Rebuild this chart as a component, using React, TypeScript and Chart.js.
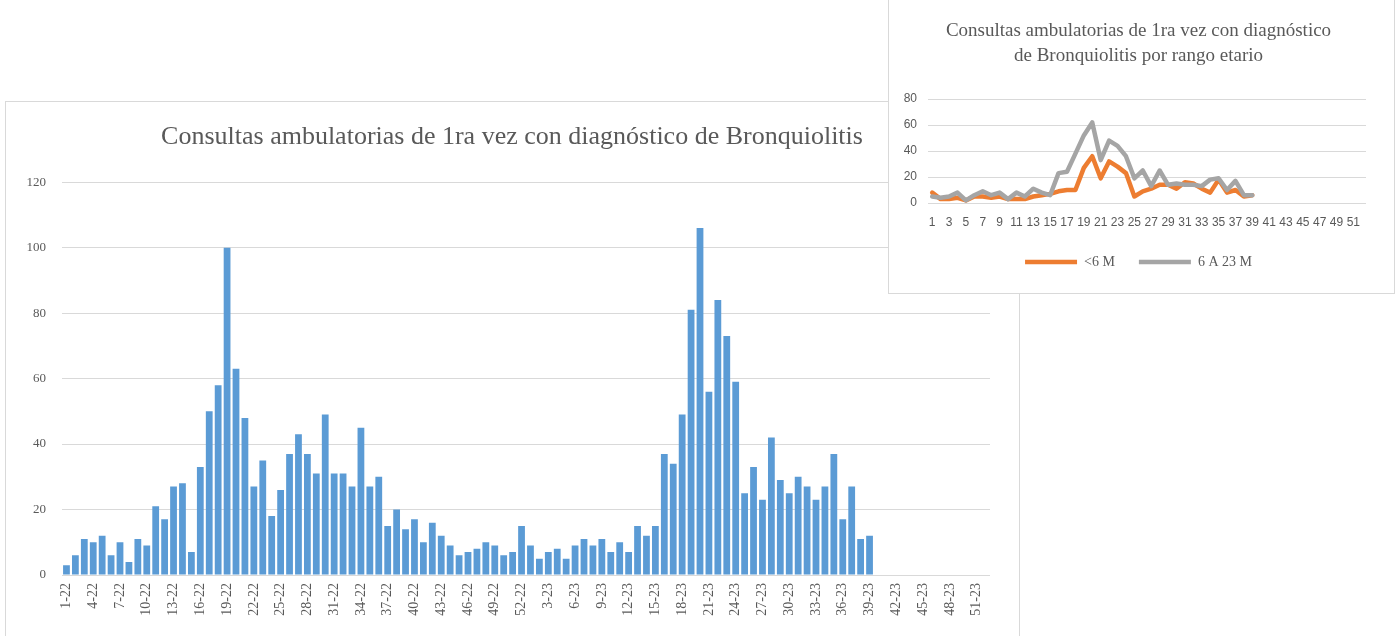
import React, { useEffect, useRef } from "react";
import { Chart, registerables } from "chart.js";

Chart.register(...registerables);

// ---------- DATA ----------
const weekNumbers = [
  1, 2, 3, 4, 5, 6, 7, 8, 9, 10, 11, 12, 13, 14, 15, 16, 17, 18, 19, 20, 21, 22, 23, 24, 25, 26,
  27, 28, 29, 30, 31, 32, 33, 34, 35, 36, 37, 38, 39, 40, 41, 42, 43, 44, 45, 46, 47, 48, 49, 50, 51, 52,
];
const yearSuffixes = ["22", "23"];

// Weekly consultations 2022 (weeks 1-52)
const counts2022 = [
  3, 6, 11, 10, 12, 6, 10, 4, 11, 9, 21, 17, 27, 28, 7, 33, 50, 58, 100, 63, 48, 27, 35, 18, 26, 37,
  43, 37, 31, 49, 31, 31, 27, 45, 27, 30, 15, 20, 14, 17, 10, 16, 12, 9, 6, 7, 8, 10, 9, 6, 7, 15,
];
// Weekly consultations 2023 (weeks 1-39 reported)
const counts2023 = [
  9, 5, 7, 8, 5, 9, 11, 9, 11, 7, 10, 7, 15, 12, 15, 37, 34, 49, 81, 106, 56, 84, 73, 59, 25, 33,
  23, 42, 29, 25, 30, 27, 23, 27, 37, 17, 27, 11, 12,
];

// Inset: by age range (weeks 1-39)
const under6Months = [
  8, 3, 3, 4, 2, 5, 5, 4, 5, 3, 3, 3, 5, 6, 7, 9, 10, 10, 27, 36, 19, 32, 28, 23, 5, 9,
  11, 14, 14, 11, 16, 15, 11, 8, 18, 8, 10, 5, 6,
];
const months6to23 = [
  5, 4, 5, 8, 2, 6, 9, 6, 8, 3, 8, 5, 11, 8, 6, 23, 24, 38, 52, 62, 33, 48, 44, 36, 19, 25,
  13, 25, 14, 15, 14, 14, 13, 18, 19, 10, 17, 6, 6,
];

const mainTitle = "Consultas ambulatorias de 1ra vez con diagnóstico de Bronquiolitis";
const insetTitle = [
  "Consultas ambulatorias de 1ra vez con diagnóstico",
  "de Bronquiolitis por rango etario",
];
const seriesNames = ["<6 M", "6 A 23 M"];

const TEXT = "#595959";
const GRID = "#D9D9D9";
const SERIF = "'Liberation Serif', 'DejaVu Serif', serif";
const SANS = "'Liberation Sans', 'DejaVu Sans', sans-serif";

function padTo(arr: (number | null)[], n: number) {
  return weekNumbers.slice(0, n).map((_, i) => (i < arr.length ? arr[i] : null));
}

// invisible right-hand spacer axis (keeps titles/legends centred like the original)
function spacerAxis(width: number) {
  return {
    type: "linear" as const,
    position: "right" as const,
    min: 0,
    max: 1,
    grid: { display: false, drawTicks: false },
    border: { display: false },
    ticks: { display: false },
    afterFit: (s: any) => {
      s.width = width;
    },
  };
}

function MainChart() {
  const ref = useRef<HTMLCanvasElement | null>(null);
  useEffect(() => {
    if (!ref.current) return;
    const labels = yearSuffixes.flatMap((y) => weekNumbers.map((w) => `${w}-${y}`));
    const values = [...padTo(counts2022, 52), ...padTo(counts2023, 52)];
    const chart = new Chart(ref.current, {
      type: "bar",
      data: {
        labels,
        datasets: [
          {
            data: values,
            backgroundColor: "#5B9BD5",
            borderWidth: 0,
            barPercentage: 0.76,
            categoryPercentage: 1,
            yAxisID: "y",
          },
        ],
      },
      options: {
        animation: false,
        responsive: false,
        maintainAspectRatio: false,
        layout: { padding: { left: 0, right: 1, top: 0, bottom: 0 } },
        plugins: {
          legend: { display: false },
          tooltip: { enabled: false },
          title: {
            display: true,
            text: mainTitle,
            color: TEXT,
            font: { family: SERIF, size: 26, weight: "normal" },
            padding: { top: 20, bottom: 29 },
          },
        },
        scales: {
          x: {
            grid: { display: false, drawTicks: false },
            border: { display: false },
            afterFit: (s: any) => {
              s.height = 62;
            },
            ticks: {
              autoSkip: false,
              minRotation: 90,
              maxRotation: 90,
              padding: 8,
              color: TEXT,
              font: { family: SERIF, size: 14 },
              callback: (_v: any, i: number) => (i % 3 === 0 ? labels[i] : ""),
            },
          },
          y: {
            min: 0,
            max: 120,
            grid: { color: GRID, lineWidth: 1, drawTicks: false },
            border: { display: false },
            afterFit: (s: any) => {
              s.width = 56;
            },
            ticks: {
              stepSize: 20,
              padding: 16,
              color: TEXT,
              font: { family: SERIF, size: 13 },
            },
          },
          ySpacer: spacerAxis(28),
        },
      },
    });
    return () => chart.destroy();
  }, []);
  return <canvas ref={ref} width={1013} height={535} style={{ display: "block" }} />;
}

function InsetChart() {
  const ref = useRef<HTMLCanvasElement | null>(null);
  useEffect(() => {
    if (!ref.current) return;
    const labels = weekNumbers.map((w) => String(w));
    const common = {
      borderWidth: 4.5,
      pointRadius: 0,
      tension: 0,
      borderJoinStyle: "round" as const,
      borderCapStyle: "round" as const,
      yAxisID: "y",
    };
    const chart = new Chart(ref.current, {
      type: "line",
      data: {
        labels,
        datasets: [
          {
            ...common,
            label: seriesNames[0],
            data: padTo(under6Months, 52),
            borderColor: "#ED7D31",
            backgroundColor: "#ED7D31",
            order: 1,
          },
          {
            ...common,
            label: seriesNames[1],
            data: padTo(months6to23, 52),
            borderColor: "#A5A5A5",
            backgroundColor: "#A5A5A5",
            order: 0,
          },
        ],
      },
      options: {
        animation: false,
        responsive: false,
        maintainAspectRatio: false,
        layout: { padding: { left: 14, right: 20, top: 0, bottom: 14 } },
        plugins: {
          tooltip: { enabled: false },
          title: {
            display: true,
            text: insetTitle,
            color: TEXT,
            font: { family: SERIF, size: 19, weight: "normal", lineHeight: 1.316 },
            padding: { top: 19, bottom: 30 },
          },
          legend: {
            display: true,
            position: "bottom",
            labels: {
              sort: (a: any, b: any) => a.datasetIndex - b.datasetIndex,
              usePointStyle: true,
              pointStyle: "line",
              pointStyleWidth: 52,
              padding: 24,
              color: TEXT,
              font: { family: SERIF, size: 14 },
            },
          },
        },
        scales: {
          x: {
            offset: true,
            grid: { display: false, drawTicks: false },
            border: { display: false },
            afterFit: (s: any) => {
              s.height = 28;
            },
            ticks: {
              autoSkip: false,
              maxRotation: 0,
              minRotation: 0,
              padding: 12,
              color: TEXT,
              font: { family: SANS, size: 12 },
              callback: (_v: any, i: number) => (i % 2 === 0 ? labels[i] : ""),
            },
          },
          y: {
            min: 0,
            max: 80,
            grid: { color: GRID, lineWidth: 1, drawTicks: false },
            border: { display: false },
            afterFit: (s: any) => {
              s.width = 25;
            },
            ticks: {
              stepSize: 20,
              padding: 11,
              color: TEXT,
              font: { family: SANS, size: 12 },
            },
          },
          ySpacer: spacerAxis(8),
        },
      },
    });
    return () => chart.destroy();
  }, []);
  return <canvas ref={ref} width={505} height={293} style={{ display: "block" }} />;
}

export default function App() {
  return (
    <div
      style={{
        position: "fixed",
        left: 0,
        top: 0,
        width: 1400,
        height: 636,
        overflow: "hidden",
        background: "#ffffff",
      }}
    >
      <div
        style={{
          position: "absolute",
          left: 5,
          top: 101,
          width: 1015,
          height: 545,
          border: "1px solid #D9D9D9",
          boxSizing: "border-box",
          background: "#ffffff",
        }}
      >
        <MainChart />
      </div>
      <div
        style={{
          position: "absolute",
          left: 888,
          top: -1,
          width: 507,
          height: 295,
          border: "1px solid #D9D9D9",
          boxSizing: "border-box",
          background: "#ffffff",
        }}
      >
        <InsetChart />
      </div>
    </div>
  );
}
